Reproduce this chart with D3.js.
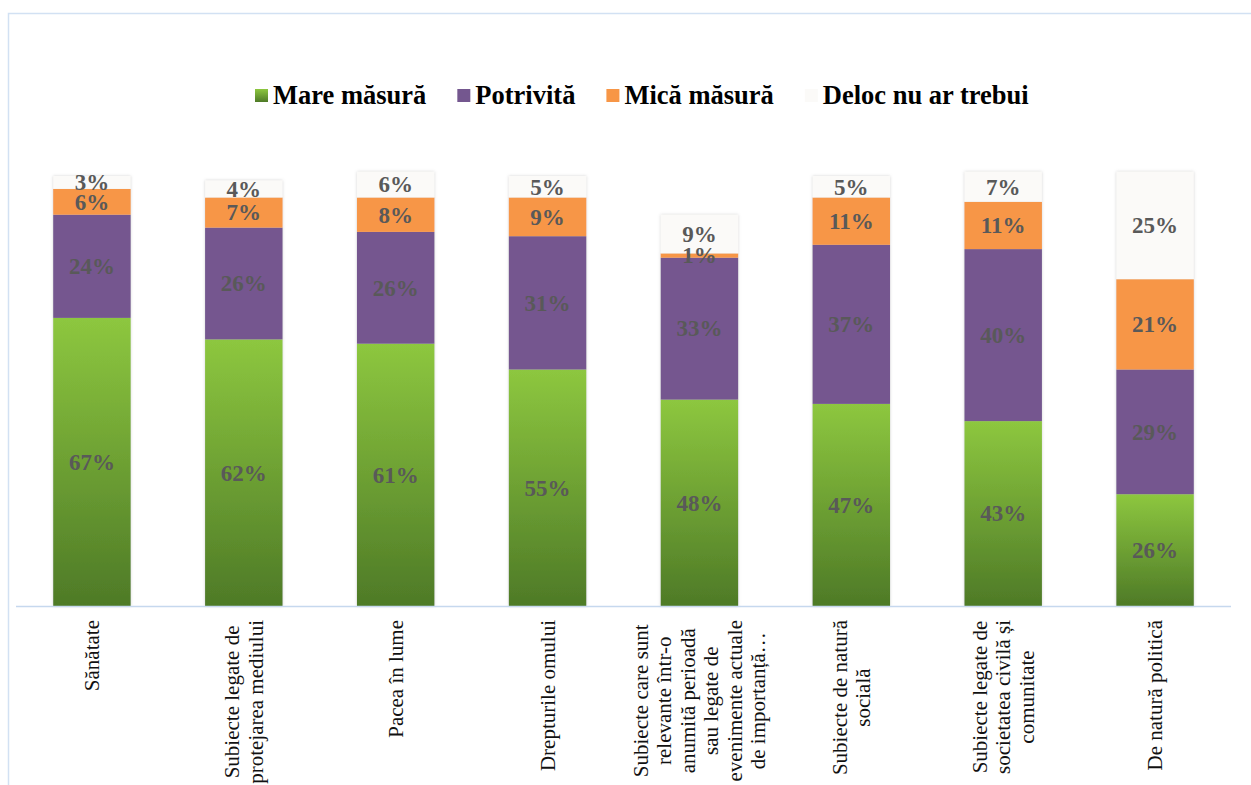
<!DOCTYPE html>
<html>
<head>
<meta charset="utf-8">
<script src="https://cdn.jsdelivr.net/npm/d3@7"></script>
<style>
  body { margin: 0; background: #ffffff; }
  svg { display: block; }
  .serif { font-family: "Liberation Serif", "Times New Roman", serif; }
</style>
</head>
<body>
<svg id="chart" width="1251" height="785"></svg>
<script>
// Categories (topics) and their wrapped axis labels
const categories = [
  "Sănătate",
  "Subiecte legate de protejarea mediului",
  "Pacea în lume",
  "Drepturile omului",
  "Subiecte care sunt relevante într-o anumită perioadă sau legate de evenimente actuale de importanță…",
  "Subiecte de natură socială",
  "Subiecte legate de societatea civilă și comunitate",
  "De natură politică"
];
const categoryLines = [
  ["Sănătate"],
  ["Subiecte legate de", "protejarea mediului"],
  ["Pacea în lume"],
  ["Drepturile omului"],
  ["Subiecte care sunt", "relevante într-o", "anumită perioadă", "sau legate de", "evenimente actuale", "de importanță…"],
  ["Subiecte de natură", "socială"],
  ["Subiecte legate de", "societatea civilă și", "comunitate"],
  ["De natură politică"]
];

// Series (stacked bottom to top), values in percent
const seriesNames = ["Mare măsură", "Potrivită", "Mică măsură", "Deloc nu ar trebui"];
const mareMasura   = [67, 62, 61, 55, 48, 47, 43, 26];
const potrivita    = [24, 26, 26, 31, 33, 37, 40, 29];
const micaMasura   = [6, 7, 8, 9, 1, 11, 11, 21];
const delocNuArTrebui = [3, 4, 6, 5, 9, 5, 7, 25];

const seriesValues = [mareMasura, potrivita, micaMasura, delocNuArTrebui];
const seriesFills = ["url(#gradGreen)", "#74578f", "#f79646", "#fbfaf8"];

const W = 1251, H = 785;
const svg = d3.select("#chart");

// Definitions: green gradient and soft bar shadow
const defs = svg.append("defs");
const grad = defs.append("linearGradient")
  .attr("id", "gradGreen").attr("x1", 0).attr("y1", 0).attr("x2", 0).attr("y2", 1);
grad.append("stop").attr("offset", "0%").attr("stop-color", "#8dc73f");
grad.append("stop").attr("offset", "100%").attr("stop-color", "#4e7a27");

const shadow = defs.append("filter").attr("id", "barShadow")
  .attr("x", "-20%").attr("y", "-5%").attr("width", "140%").attr("height", "110%");
shadow.append("feGaussianBlur").attr("in", "SourceAlpha").attr("stdDeviation", 1.6).attr("result", "blur");
shadow.append("feFlood").attr("flood-color", "#9a9a9a").attr("flood-opacity", 0.45);
shadow.append("feComposite").attr("in2", "blur").attr("operator", "in").attr("result", "shade");
const merge = shadow.append("feMerge");
merge.append("feMergeNode").attr("in", "shade");
merge.append("feMergeNode").attr("in", "SourceGraphic");

// Chart frame
svg.append("rect")
  .attr("x", 8.5).attr("y", 13.5)
  .attr("width", W + 20).attr("height", H + 20)
  .attr("fill", "none").attr("stroke", "#d2e1f3").attr("stroke-width", 1.5);

// Scales
const x = d3.scaleBand()
  .domain(categories)
  .range([16, 1231])
  .paddingInner(0.49)
  .paddingOuter(0.245);

const y = d3.scaleLinear().domain([0, 100]).range([606, 176]);

// Stack the series
const rows = categories.map((c, i) => {
  const r = { category: c };
  seriesNames.forEach((s, k) => { r[s] = seriesValues[k][i]; });
  return r;
});
const stacked = d3.stack().keys(seriesNames)(rows);

// Bars: one group per category so the shadow wraps the whole column
const barGroups = svg.append("g").selectAll("g.bar")
  .data(categories)
  .join("g")
  .attr("class", "bar")
  .attr("filter", "url(#barShadow)");

barGroups.each(function (c, i) {
  const g = d3.select(this);
  stacked.forEach((layer, k) => {
    const d = layer[i];
    g.append("rect")
      .attr("x", x(c))
      .attr("width", x.bandwidth())
      .attr("y", y(d[1]))
      .attr("height", y(d[0]) - y(d[1]))
      .attr("fill", seriesFills[k]);
  });
});

// Value labels centred in each segment
const labels = svg.append("g")
  .attr("class", "serif")
  .attr("font-weight", "bold")
  .attr("font-size", 23)
  .attr("fill", "#595959")
  .attr("text-anchor", "middle");

stacked.forEach((layer, k) => {
  layer.forEach((d, i) => {
    labels.append("text")
      .attr("class", "serif")
      .attr("x", x(categories[i]) + x.bandwidth() / 2)
      .attr("y", (y(d[0]) + y(d[1])) / 2)
      .attr("dy", "0.34em")
      .text(seriesValues[k][i] + "%");
  });
});

// Category axis line
svg.append("line")
  .attr("x1", 16).attr("x2", 1231)
  .attr("y1", y(0) + 0.5).attr("y2", y(0) + 0.5)
  .attr("stroke", "#c6d8ee").attr("stroke-width", 1.5);

// Rotated category labels, lines centred, block hanging under the axis
const catG = svg.append("g")
  .attr("class", "serif")
  .attr("font-size", 21)
  .attr("fill", "#111");

const lineH = 23.5;
categories.forEach((c, i) => {
  const lines = categoryLines[i];
  const cx = x(c) + x.bandwidth() / 2;
  const g = catG.append("g");
  const texts = lines.map(ln => g.append("text").attr("class", "serif").attr("text-anchor", "middle").text(ln));
  const maxW = d3.max(texts, t => t.node().getComputedTextLength());
  const topY = 620;
  const midY = topY + maxW / 2;
  const n = lines.length;
  texts.forEach((t, j) => {
    const off = (j - (n - 1) / 2) * lineH;
    // baseline sits to the right of the glyph centre when rotated
    t.attr("transform", `translate(${cx + off + 7},${midY}) rotate(-90)`);
  });
});

// Legend
const legend = svg.append("g")
  .attr("class", "serif")
  .attr("font-weight", "bold")
  .attr("font-size", 26.5)
  .attr("fill", "#000");

let lx = 255;
seriesNames.forEach((s, k) => {
  legend.append("rect")
    .attr("x", lx).attr("y", 89)
    .attr("width", 13).attr("height", 13)
    .attr("fill", seriesFills[k]);
  const t = legend.append("text")
    .attr("class", "serif")
    .attr("x", lx + 18).attr("y", 104)
    .text(s);
  lx += 18 + t.node().getComputedTextLength() + 31;
});
</script>
</body>
</html>
